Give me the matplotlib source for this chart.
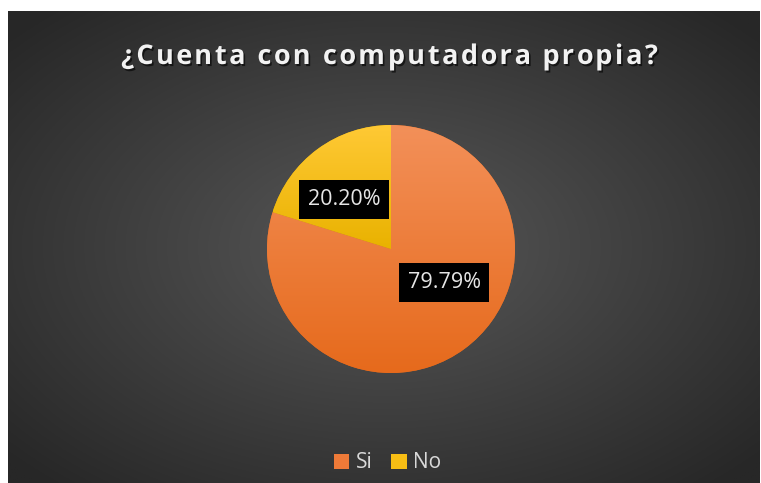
import numpy as np
import matplotlib
matplotlib.use("Agg")
import matplotlib.pyplot as plt
import matplotlib.colors as mcolors
import matplotlib.patheffects as pe
from matplotlib.patches import Patch

TITLE = "¿Cuenta con computadora propia?"
CATEGORIES = ["Si", "No"]
PERCENTS = [79.79, 20.20]

# data-label box centres, in pie radii (Excel "best fit" placement)
LABEL_POS = [(0.43, -0.27), (-0.38, 0.40)]

COLORS = [("#F39059", "#E66A1C"), ("#FFC935", "#E9B200")]
LEGEND_COLORS = ["#EE7A38", "#F8BE14"]

W, H = 761, 483
fig = plt.figure(figsize=(W / 100, H / 100), dpi=100)
fig.patch.set_facecolor("white")

# dark panel with a radial gradient
bg = fig.add_axes([8 / W, 0, (W - 9) / W, (H - 11) / H])
bg.axis("off")
yy, xx = np.mgrid[0:1:300j, 0:1:480j]
d = np.sqrt(((xx - 0.5) / 0.5) ** 2 + ((yy - 0.5) / 0.5) ** 2)
t = np.clip(d / 1.35, 0, 1)
shade = (0x58 * (1 - t) + 0x27 * t) / 255
bg.imshow(np.dstack([shade] * 3), extent=(0, 1, 0, 1), aspect="auto", origin="lower")
bg.set_xlim(0, 1)
bg.set_ylim(0, 1)

# pie
cx, cy, r = 391, 249, 124
ax = fig.add_axes([(cx - r) / W, 1 - (cy + r) / H, 2 * r / W, 2 * r / H])
ax.patch.set_alpha(0)
total = sum(PERCENTS)
wedges, texts, autotexts = ax.pie(
    PERCENTS,
    startangle=90,
    counterclock=False,
    colors=[c[1] for c in COLORS],
    autopct=lambda p: f"{p * total / 100:.2f}%",
    pctdistance=0.5,
    wedgeprops=dict(linewidth=0),
)

for w, (top, bot) in zip(wedges, COLORS):
    ext = w.get_path().get_extents()
    g = np.linspace(0, 1, 256)[:, None, None]
    img = np.array(mcolors.to_rgb(top)) * (1 - g) + np.array(mcolors.to_rgb(bot)) * g
    im = ax.imshow(img, extent=(ext.x0, ext.x1, ext.y0, ext.y1), origin="upper",
                   aspect="auto", zorder=w.get_zorder() + 0.1)
    im.set_clip_path(w)

ax.set_xlim(-1, 1)
ax.set_ylim(-1, 1)
ax.set_aspect("equal")
ax.axis("off")

for txt, pos in zip(autotexts, LABEL_POS):
    txt.set_position(pos)
    txt.set(color="#E6E6E6", fontsize=15.5, family="Open Sans", zorder=5,
            bbox=dict(boxstyle="square,pad=0.4", fc="black", ec="none"))

# title with letter spacing
title_font = dict(family="Open Sans", weight="bold", size=19.5)
renderer = fig.canvas.get_renderer()


def text_width(s):
    tt = fig.text(0, 0, s, **title_font)
    wd = tt.get_window_extent(renderer).width
    tt.remove()
    return wd


x_w = text_width("x")
adv = [text_width(TITLE[:i] + "x") - x_w for i in range(len(TITLE))]
natural = text_width(TITLE)
left, right, base = 121, 658, 64
spacing = (right - left - natural) / (len(TITLE) - 1)
for i, ch in enumerate(TITLE):
    fig.text((left + adv[i] + i * spacing) / W, 1 - base / H, ch,
             ha="left", va="baseline", color="#F2F2F2", **title_font,
             path_effects=[pe.withSimplePatchShadow(offset=(1.2, -1.5),
                                                    shadow_rgbFace="black", alpha=0.6)])

# legend
handles = [Patch(facecolor=c, edgecolor="none") for c in LEGEND_COLORS]
fig.legend(handles, CATEGORIES, loc="center", bbox_to_anchor=(387.5 / W, 1 - 463 / H),
           ncol=2, frameon=False, handlelength=0.75, handleheight=0.75,
           handletextpad=0.3, columnspacing=0.9,
           prop=dict(family="Open Sans", size=15), labelcolor="#D9D9D9")

fig.savefig("out.png", dpi=100)
